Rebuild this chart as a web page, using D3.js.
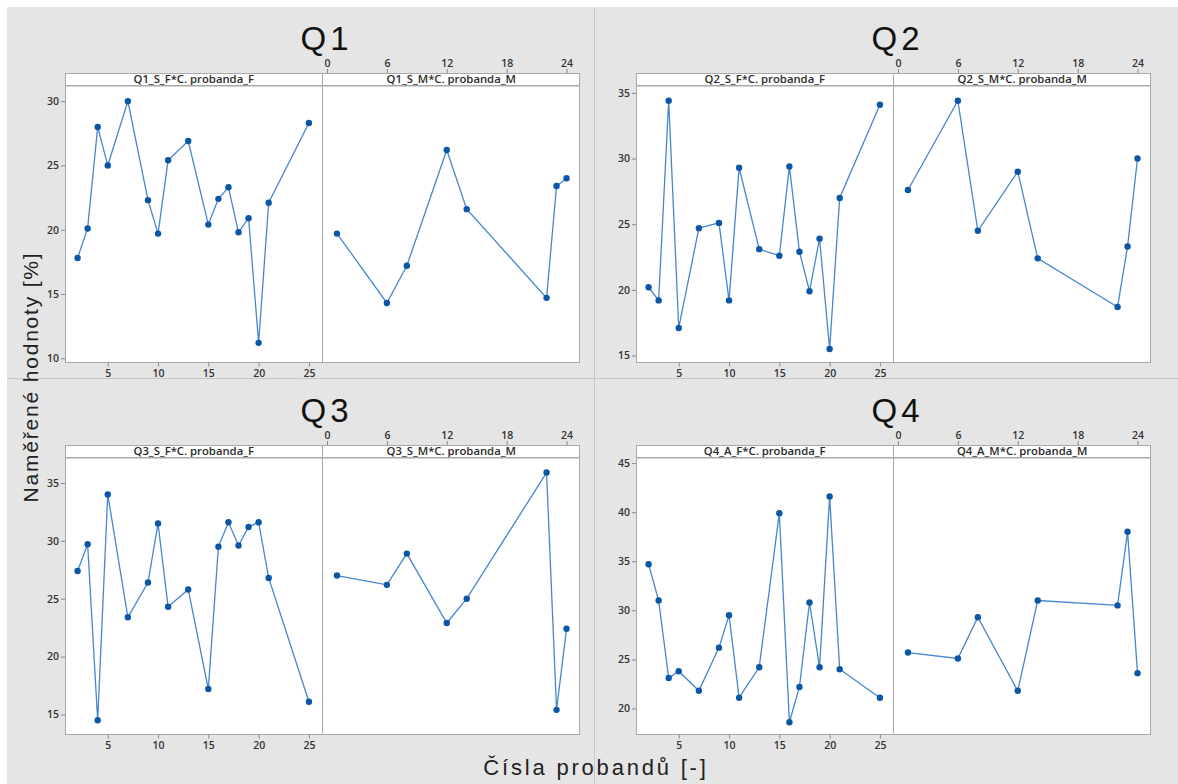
<!DOCTYPE html>
<html>
<head>
<meta charset="utf-8">
<script src="https://cdn.jsdelivr.net/npm/d3@7"></script>
<style>
  body { margin: 0; background: #fff; }
  svg { display: block; }
  .tick text { font-family: "Open Sans", "Noto Sans", sans-serif; font-size: 10.5px; font-weight: 600; fill: #333; }
  .tick line { stroke: #8a8a8a; }
  .domain { display: none; }
</style>
</head>
<body>
<script>
// probands on the x axis, by sex
let probandsF = [2, 3, 4, 5, 7, 9, 10, 11, 13, 15, 16, 17, 18, 19, 20, 21, 25]
let probandsM = [1, 6, 8, 12, 14, 22, 23, 24]

let titles = ['Q1', 'Q2', 'Q3', 'Q4']
let headersF = ['Q1_S_F*C. probanda_F', 'Q2_S_F*C. probanda_F', 'Q3_S_F*C. probanda_F', 'Q4_A_F*C. probanda_F']
let headersM = ['Q1_S_M*C. probanda_M', 'Q2_S_M*C. probanda_M', 'Q3_S_M*C. probanda_M', 'Q4_A_M*C. probanda_M']

let q1F = [17.8, 20.1, 28.0, 25.0, 30.0, 22.3, 19.7, 25.4, 26.9, 20.4, 22.4, 23.3, 19.8, 20.9, 11.2, 22.1, 28.3]
let q1M = [19.7, 14.3, 17.2, 26.2, 21.6, 14.7, 23.4, 24.0]
let q2F = [20.2, 19.2, 34.4, 17.1, 24.7, 25.1, 19.2, 29.3, 23.1, 22.6, 29.4, 22.9, 19.9, 23.9, 15.5, 27.0, 34.1]
let q2M = [27.6, 34.4, 24.5, 29.0, 22.4, 18.7, 23.3, 30.0]
let q3F = [27.4, 29.7, 14.5, 34.0, 23.4, 26.4, 31.5, 24.3, 25.8, 17.2, 29.5, 31.6, 29.6, 31.2, 31.6, 26.8, 16.1]
let q3M = [27.0, 26.2, 28.9, 22.9, 25.0, 35.9, 15.4, 22.4]
let q4F = [34.7, 31.0, 23.1, 23.8, 21.8, 26.2, 29.5, 21.1, 24.2, 39.9, 18.6, 22.2, 30.8, 24.2, 41.6, 24.0, 21.1]
let q4M = [25.7, 25.1, 29.3, 21.8, 31.0, 30.5, 38.0, 23.6]

let seriesF = [q1F, q2F, q3F, q4F]
let seriesM = [q1M, q2M, q3M, q4M]

// axis ranges and ticks
let yDomains = [[9.67, 31.22], [14.47, 35.56], [13.27, 37.2], [17.35, 45.57]]
let yTicks = [[10, 15, 20, 25, 30], [15, 20, 25, 30, 35], [15, 20, 25, 30, 35], [20, 25, 30, 35, 40, 45]]
let xTicksF = [5, 10, 15, 20, 25]
let xTicksM = [0, 6, 12, 18, 24]

let width = 1178
let height = 784

let lineColor = '#4686cf'
let dotColor = '#0c56a6'

let svg = d3.select('body').append('svg')
    .attr('width', width)
    .attr('height', height)

svg.append('rect')
    .attr('width', width).attr('height', height)
    .attr('fill', '#fff')

svg.append('rect')
    .attr('x', 7).attr('y', 7)
    .attr('width', width - 7).attr('height', height - 7)
    .attr('fill', '#e5e5e5')

// quadrant dividers
svg.append('line')
    .attr('x1', 594.5).attr('x2', 594.5).attr('y1', 7).attr('y2', height)
    .attr('stroke', '#c6c6c6')
svg.append('line')
    .attr('x1', 7).attr('x2', width).attr('y1', 378.5).attr('y2', 378.5)
    .attr('stroke', '#c6c6c6')

// panel geometry of the first quadrant, others are shifted
let left = 65, mid = 322.5, right = 580
let headTop = 73, headBot = 85.5, plotBot = 362.5
let colShift = 571, rowShift = 372

titles.forEach((t, i) => {
    let dx = (i % 2) * colShift
    let dy = Math.floor(i / 2) * rowShift
    let g = svg.append('g').attr('transform', 'translate(' + dx + ',' + dy + ')')

    let y = d3.scaleLinear().domain(yDomains[i]).range([plotBot, headBot])
    let xF = d3.scaleLinear().domain([0.75, 26.35]).range([left, mid])
    let xM = d3.scaleLinear().domain([-0.45, 25.35]).range([mid, right])

    g.append('text')
        .attr('x', mid + 4)
        .attr('y', 50)
        .attr('text-anchor', 'middle')
        .attr('font-family', 'Liberation Sans, Arial, sans-serif')
        .attr('font-size', 33)
        .attr('letter-spacing', 4)
        .attr('fill', '#111')
        .text(t)

    // plot areas
    g.append('rect')
        .attr('x', left).attr('y', headBot)
        .attr('width', right - left).attr('height', plotBot - headBot)
        .attr('fill', '#fff')

    // header strip
    g.append('rect')
        .attr('x', left + 0.5).attr('y', headTop + 0.5)
        .attr('width', right - left - 1).attr('height', headBot - headTop)
        .attr('fill', '#fff')
        .attr('stroke', '#a9a9a9')

    ;[[headersF[i], (left + mid) / 2], [headersM[i], (mid + right) / 2]].forEach(h => {
        g.append('text')
            .attr('x', h[1]).attr('y', headBot - 2.5)
            .attr('text-anchor', 'middle')
            .attr('font-family', 'Open Sans, Noto Sans, sans-serif')
            .attr('font-size', 11.3)
            .attr('font-weight', 600)
            .attr('fill', '#2b2b2b')
            .text(h[0])
    })

    // frame of both panels
    g.append('rect')
        .attr('x', left + 0.5).attr('y', headBot)
        .attr('width', right - left - 1).attr('height', plotBot - headBot)
        .attr('fill', 'none')
        .attr('stroke', '#a9a9a9')
    g.append('line')
        .attr('x1', mid).attr('x2', mid).attr('y1', headTop).attr('y2', plotBot)
        .attr('stroke', '#a9a9a9')

    g.append('g')
        .attr('transform', 'translate(' + left + ',0)')
        .call(d3.axisLeft(y).tickValues(yTicks[i]).tickSize(4).tickPadding(2))

    g.append('g')
        .attr('transform', 'translate(0,' + plotBot + ')')
        .call(d3.axisBottom(xF).tickValues(xTicksF).tickSize(4).tickPadding(3))

    g.append('g')
        .attr('transform', 'translate(0,' + headTop + ')')
        .call(d3.axisTop(xM).tickValues(xTicksM).tickSize(4).tickPadding(2))

    let panels = [[probandsF, seriesF[i], xF], [probandsM, seriesM[i], xM]]
    panels.forEach(p => {
        let pts = p[0].map((d, j) => [p[2](d), y(p[1][j])])

        g.append('path')
            .attr('d', d3.line()(pts))
            .attr('fill', 'none')
            .attr('stroke', lineColor)
            .attr('stroke-width', 1.3)

        g.selectAll(null)
            .data(pts)
            .enter().append('circle')
            .attr('cx', d => d[0])
            .attr('cy', d => d[1])
            .attr('r', 3.2)
            .attr('fill', dotColor)
    })
})

// common axis titles
svg.append('text')
    .attr('transform', 'translate(38,377) rotate(-90)')
    .attr('text-anchor', 'middle')
    .attr('font-family', 'Liberation Sans, Arial, sans-serif')
    .attr('font-size', 21)
    .attr('letter-spacing', 1.8)
    .attr('fill', '#222')
    .text('Naměřené hodnoty [%]')

svg.append('text')
    .attr('x', 596)
    .attr('y', 775)
    .attr('text-anchor', 'middle')
    .attr('font-family', 'Liberation Sans, Arial, sans-serif')
    .attr('font-size', 22)
    .attr('letter-spacing', 2.8)
    .attr('fill', '#222')
    .text('Čísla probandů [-]')
</script>
</body>
</html>
